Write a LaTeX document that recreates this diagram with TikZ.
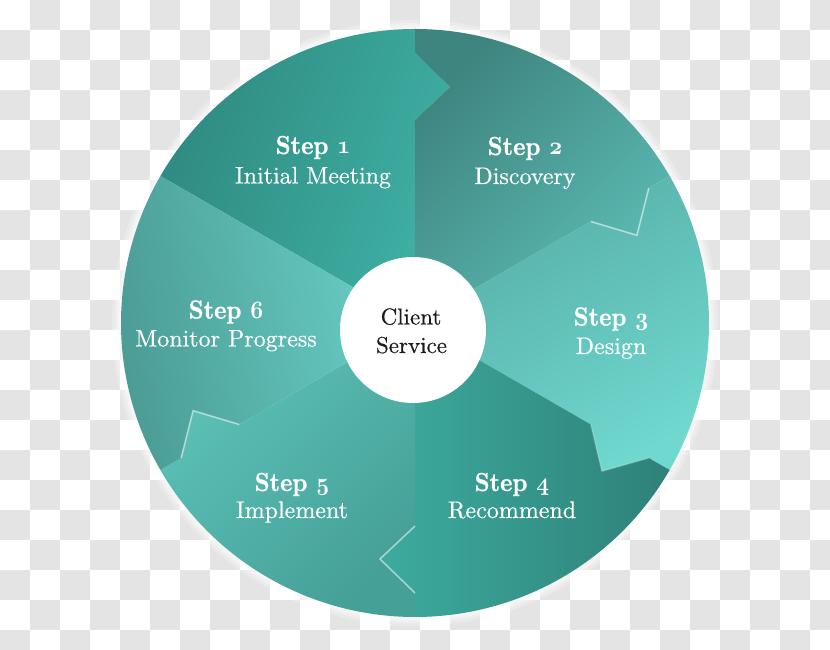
\documentclass[tikz,border=0pt]{standalone}
\usepackage{fontspec}
\newfontfamily\subfont{lmroman10-regular.otf}[FakeBold=0.45]
\newfontfamily\titlefont{lmroman10-bold.otf}[FakeBold=0.9]
\definecolor{chk}{HTML}{E4E4E4}
\definecolor{sA1}{HTML}{2F8A80}\definecolor{sB1}{HTML}{3FB0A5}
\definecolor{sA2}{HTML}{3E847F}\definecolor{sB2}{HTML}{5DBDB5}
\definecolor{sA3}{HTML}{55ADA6}\definecolor{sB3}{HTML}{70D8CF}
\definecolor{sA4}{HTML}{3DAB9F}\definecolor{sB4}{HTML}{2E8178}
\definecolor{sA5}{HTML}{5DC3B9}\definecolor{sB5}{HTML}{45A098}
\definecolor{sA6}{HTML}{4A9B94}\definecolor{sB6}{HTML}{6AD1C9}
\definecolor{inktext}{HTML}{1A1A1A}
\newcommand\osn[1]{{\fontencoding{OML}\fontfamily{cmm}\fontseries{b}\fontshape{it}\selectfont #1}}
\begin{document}
\begin{tikzpicture}[x=1pt,y=1pt,
  steptitle/.style={text=white,anchor=base,font=\fontsize{26}{30}\titlefont},
  stepsub/.style={text=white,anchor=base,font=\fontsize{24}{28}\subfont},
  centertext/.style={text=inktext,anchor=base,font=\fontsize{23}{28}\subfont},
  hilite/.style={draw=white,draw opacity=0.5,line width=1.6pt,line join=miter}]
\path[use as bounding box] (0,0) rectangle (830,650);
\fill[white] (0,0) rectangle (830,650);
\foreach \i in {0,...,27}{\foreach \j in {0,...,21}{%
  \pgfmathtruncatemacro\k{mod(\i+\j,2)}%
  \ifnum\k=1 \fill[chk] ({30*\i},{650-30*\j}) rectangle ++(30,-30);\fi}}
\coordinate (c) at (415,327);
\begin{scope}[shift={(c)}]
  \foreach \r in {296,298,300,303}{\fill[white,opacity=0.25] (0,0) circle[radius=\r pt];}
  % Step 1
  \shade[left color=sA1,right color=sB1,shading angle=70]
    (0,0) -- (150:294pt) arc[start angle=150,end angle=90,radius=294pt]
    -- (90:270pt) -- (81.56:238.6pt) -- (90:203pt) -- cycle;
  % Step 2
  \shade[left color=sA2,right color=sB2,shading angle=45]
    (0,0) -- (90:203pt) -- (81.56:238.6pt) -- (90:270pt) -- (90:294pt)
    arc[start angle=90,end angle=30,radius=294pt]
    -- (30:270pt) -- (21.56:238.6pt) -- (30:203pt) -- cycle;
  % Step 3
  \shade[left color=sA3,right color=sB3,shading angle=30]
    (0,0) -- (30:203pt) -- (21.56:238.6pt) -- (30:270pt) -- (30:294pt)
    arc[start angle=30,end angle=-30,radius=294pt]
    -- (-30:270pt) -- (-38.44:238.6pt) -- (-30:203pt) -- cycle;
  % Step 4
  \shade[left color=sA4,right color=sB4,shading angle=90]
    (0,0) -- (-30:203pt) -- (-38.44:238.6pt) -- (-30:270pt) -- (-30:294pt)
    arc[start angle=-30,end angle=-90,radius=294pt]
    -- (-90:270pt) -- (-98.44:238.6pt) -- (-90:203pt) -- cycle;
  % Step 5
  \shade[left color=sA5,right color=sB5,shading angle=45]
    (0,0) -- (-90:203pt) -- (-98.44:238.6pt) -- (-90:270pt) -- (-90:294pt)
    arc[start angle=-90,end angle=-150,radius=294pt]
    -- (-150:270pt) -- (-158.44:238.6pt) -- (-150:203pt) -- cycle;
  % Step 6
  \shade[left color=sA6,right color=sB6,shading angle=100]
    (0,0) -- (-150:203pt) -- (-158.44:238.6pt) -- (-150:270pt) -- (-150:294pt)
    arc[start angle=-150,end angle=-210,radius=294pt] -- cycle;
  % highlights on the arrow notches
  \path[hilite] (30:203pt) -- (21.56:238.6pt) -- (30:270pt);
  \path[hilite] (-90:203pt) -- (-98.44:238.6pt) -- (-90:270pt);
  \path[hilite] (-150:203pt) -- (-158.44:238.6pt) -- (-150:270pt);
  \path[hilite,draw opacity=0.2] (-30:203pt) -- (-38.44:238.6pt) -- (-30:270pt);
\end{scope}
\fill[white] (413,320) circle[radius=73pt];
% texts
\node[steptitle] (t1) at (313,496) {\scalebox{0.9}[1]{Step \osn{1}}};
\node[stepsub] (u1) at (313,466.5) {Initial Meeting};
\node[steptitle] (t2) at (525,495) {\scalebox{0.9}[1]{Step \osn{2}}};
\node[stepsub] (u2) at (525,466) {Discovery};
\node[steptitle] (t3) at (611,324.5) {\scalebox{0.9}[1]{Step \osn{3}}};
\node[stepsub] (u3) at (611,296) {Design};
\node[steptitle] (t4) at (512,159) {\scalebox{0.9}[1]{Step \osn{4}}};
\node[stepsub] (u4) at (512,132) {Recommend};
\node[steptitle] (t5) at (292,159) {\scalebox{0.9}[1]{Step \osn{5}}};
\node[stepsub] (u5) at (292,132) {Implement};
\node[steptitle] (t6) at (226,331.5) {\scalebox{0.9}[1]{Step \osn{6}}};
\node[stepsub] (u6) at (226,303.5) {Monitor Progress};
\node[centertext] (cl) at (411,325.5) {Client};
\node[centertext] (sv) at (411.5,297) {Service};
\end{tikzpicture}
\end{document}
